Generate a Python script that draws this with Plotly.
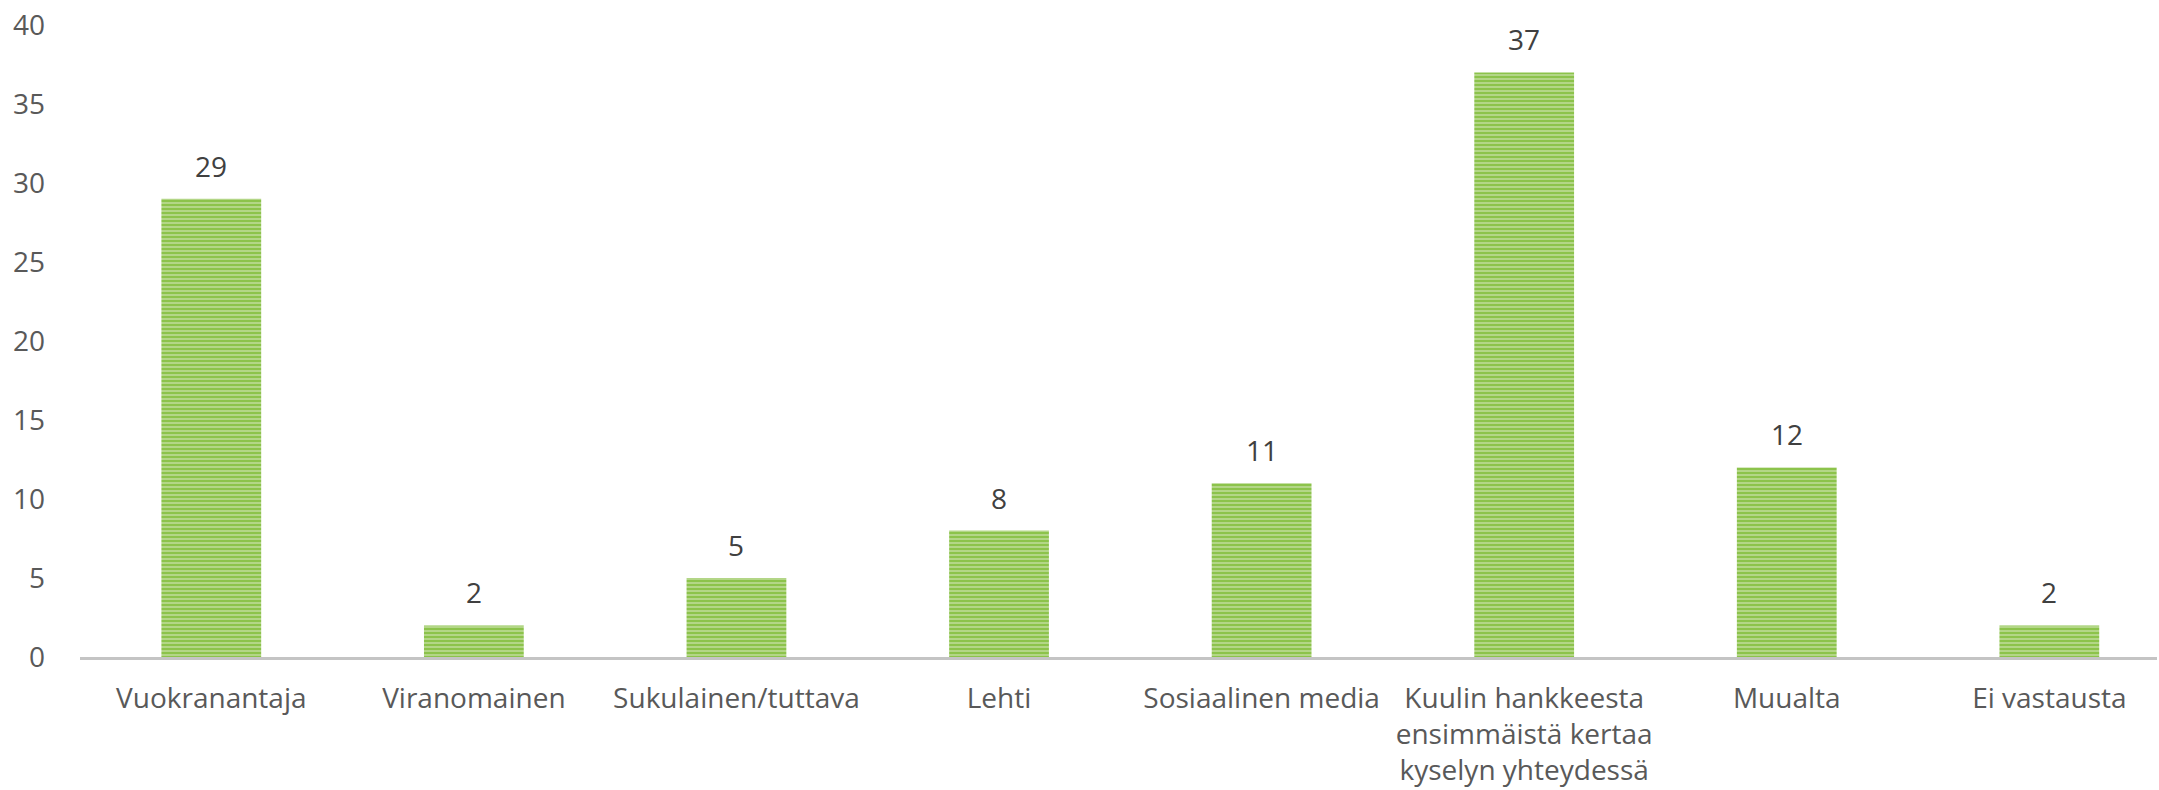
import plotly.graph_objects as go

categories = [
    "Vuokranantaja",
    "Viranomainen",
    "Sukulainen/tuttava",
    "Lehti",
    "Sosiaalinen media",
    "Kuulin hankkeesta<br>ensimmäistä kertaa<br>kyselyn yhteydessä",
    "Muualta",
    "Ei vastausta",
]
values = [29, 2, 5, 8, 11, 37, 12, 2]
y_ticks = [0, 5, 10, 15, 20, 25, 30, 35, 40]

font_family = "Open Sans, Liberation Sans, sans-serif"
FS = 28

fig = go.Figure()
fig.add_trace(go.Bar(
    x=categories,
    y=values,
    marker=dict(
        color="#8CC34B",
        line=dict(width=0),
        pattern=dict(shape="-", fgcolor="#DAEAC4", bgcolor="#8CC34B",
                     size=4, solidity=0.5, fillmode="overlay"),
    ),
    hoverinfo="skip",
))

# value labels above each bar
for c, v in zip(categories, values):
    fig.add_annotation(
        x=c, y=v, text=str(v), showarrow=False,
        yanchor="bottom", yshift=12,
        font=dict(family=font_family, size=FS, color="#404040"),
    )

fig.update_layout(
    width=2159, height=790,
    margin=dict(l=80, r=2, t=25, b=133),
    paper_bgcolor="white", plot_bgcolor="white",
    bargap=0.62,
    showlegend=False,
    font=dict(family=font_family, size=FS, color="#595959"),
)
fig.update_xaxes(
    range=[-0.5, 7.41], automargin=False,
    showline=True, linecolor="#C4C4C4", linewidth=3,
    showgrid=False, ticks="", ticklabelstandoff=14,
    tickfont=dict(size=FS, color="#595959"),
)
fig.update_yaxes(
    range=[0, 40], tickvals=y_ticks, automargin=False,
    showgrid=False, zeroline=False,
    showline=False, ticks="", ticklabelstandoff=34,
    tickfont=dict(size=FS, color="#595959"),
)

fig.write_html("out.html")
